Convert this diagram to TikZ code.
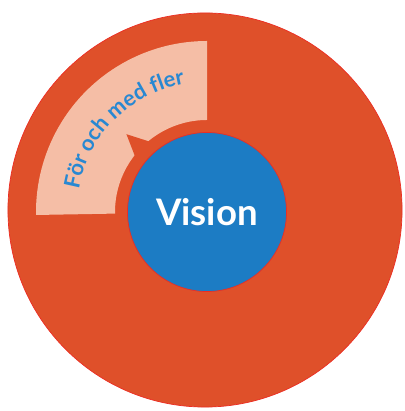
\documentclass[tikz,border=0pt]{standalone}
\usepackage{fontspec}
\setmainfont{Lato}
\usetikzlibrary{calc}
\usetikzlibrary{decorations.text}
\definecolor{ringred}{RGB}{223,80,42}
\definecolor{rimred}{RGB}{236,45,35}
\definecolor{bandpink}{RGB}{245,190,166}
\definecolor{visblue}{RGB}{28,124,196}
\definecolor{textblue}{RGB}{40,136,210}
\tikzset{
  disc/.style={circle, inner sep=0pt, draw=rimred, line width=0.5pt}
}

\begin{document}
\begin{tikzpicture}[x=0.025cm, y=0.025cm]
\useasboundingbox (0,0) rectangle (404,411);

% outer ring
\node[disc, fill=ringred, minimum size=9.85cm] (ring) at (205,201) {};

\coordinate (C) at (207,199);

%%%band
\fill[bandpink] ($ (C) + (90:171) $) arc (90:181:171) -- ($ (C) + (181:92) $) arc (181:90:92) -- cycle;
\fill[ringred] ($ (C) + (128:88) $) -- ($ (C) + (136:112) $) -- ($ (C) + (143.5:88) $) -- cycle;

\path[decorate, decoration={text along path, text align=center, text color=textblue,
  text={|\bfseries\fontsize{15.5}{18}\selectfont|För och med fler}}]
  ($ (C) + (178:130) $) arc (178:92:130);

%%%centre
\node[disc, fill=visblue, minimum size=3.975cm, text=white, font=\bfseries\fontsize{26}{30}\selectfont] (vision) at (C) {Vision};

\end{tikzpicture}
\end{document}
